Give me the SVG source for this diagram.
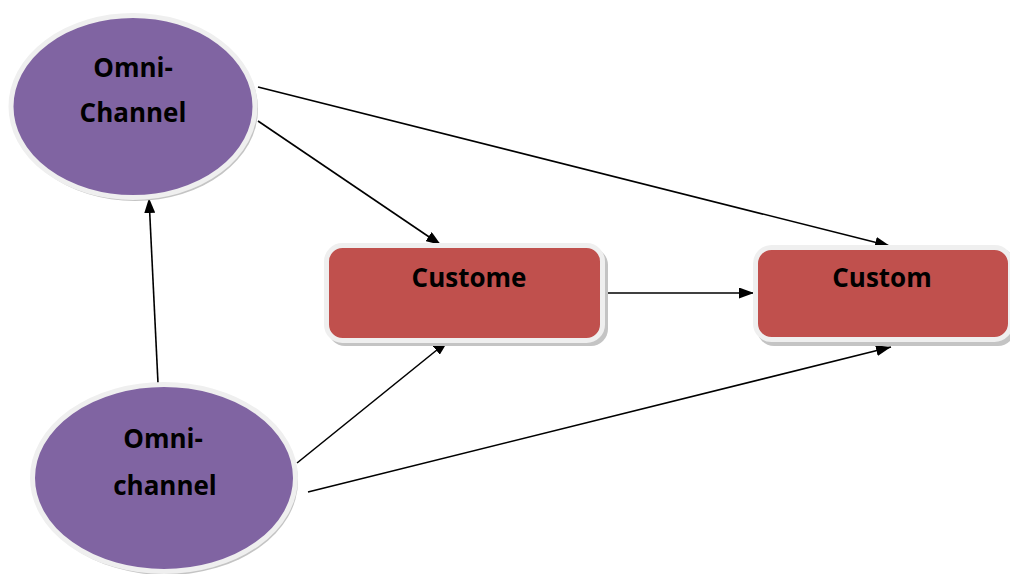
<svg xmlns="http://www.w3.org/2000/svg" width="1010" height="574" viewBox="0 0 1010 574">
<style>
.shadow{fill:#c4c4c4;}
.ell{fill:#8064A2;stroke:#efefef;stroke-width:5;}
.box{fill:#C0504D;stroke:#efefef;stroke-width:5;}
.lbl{font-family:"Open Sans","Liberation Sans",sans-serif;font-weight:bold;font-size:26px;fill:#000;text-anchor:middle;}
.con{stroke:#000;stroke-width:1.6;fill:none;marker-end:url(#arr);}
</style>
<defs>
<marker id="arr" markerUnits="userSpaceOnUse" markerWidth="15" markerHeight="11" viewBox="0 0 15 11" refX="15" refY="5.5" orient="auto">
<path d="M0,0 L15,5.5 L0,11 z" fill="#000"/>
</marker>
</defs>
<rect width="1010" height="574" fill="#fff"/>
<g id="connectors">
<line class="con" x1="258" y1="87" x2="890" y2="246"/>
<line class="con" x1="258" y1="121" x2="441" y2="245"/>
<line class="con" x1="158" y1="383" x2="149" y2="198"/>
<line class="con" x1="297" y1="463" x2="448" y2="341"/>
<line class="con" x1="308" y1="492" x2="891" y2="347"/>
<line class="con" x1="602" y1="293" x2="754" y2="293"/>
</g>
<g id="node-omni-channel-1">
<ellipse class="shadow" cx="135" cy="109" rx="123" ry="92"/>
<ellipse class="ell" cx="133" cy="106.5" rx="122" ry="91"/>
<text class="lbl" x="133" y="77">Omni-</text>
<text class="lbl" x="133" y="122">Channel</text>
</g>
<g id="node-omni-channel-2">
<ellipse class="shadow" cx="166" cy="481" rx="132" ry="94"/>
<ellipse class="ell" cx="164" cy="478" rx="131.5" ry="93.5"/>
<text class="lbl" x="163" y="448">Omni-</text>
<text class="lbl" x="165" y="495">channel</text>
</g>
<g id="node-customer-1">
<rect class="shadow" x="328" y="248" width="280" height="98" rx="17"/>
<rect class="box" x="326.5" y="245.5" width="276" height="95" rx="16"/>
<text class="lbl" x="469" y="287">Custome</text>
</g>
<g id="node-customer-2">
<rect class="shadow" x="757" y="248" width="258" height="98" rx="17"/>
<rect class="box" x="755.5" y="247.5" width="255" height="92" rx="16"/>
<text class="lbl" x="882" y="287">Custom</text>
</g>
</svg>
